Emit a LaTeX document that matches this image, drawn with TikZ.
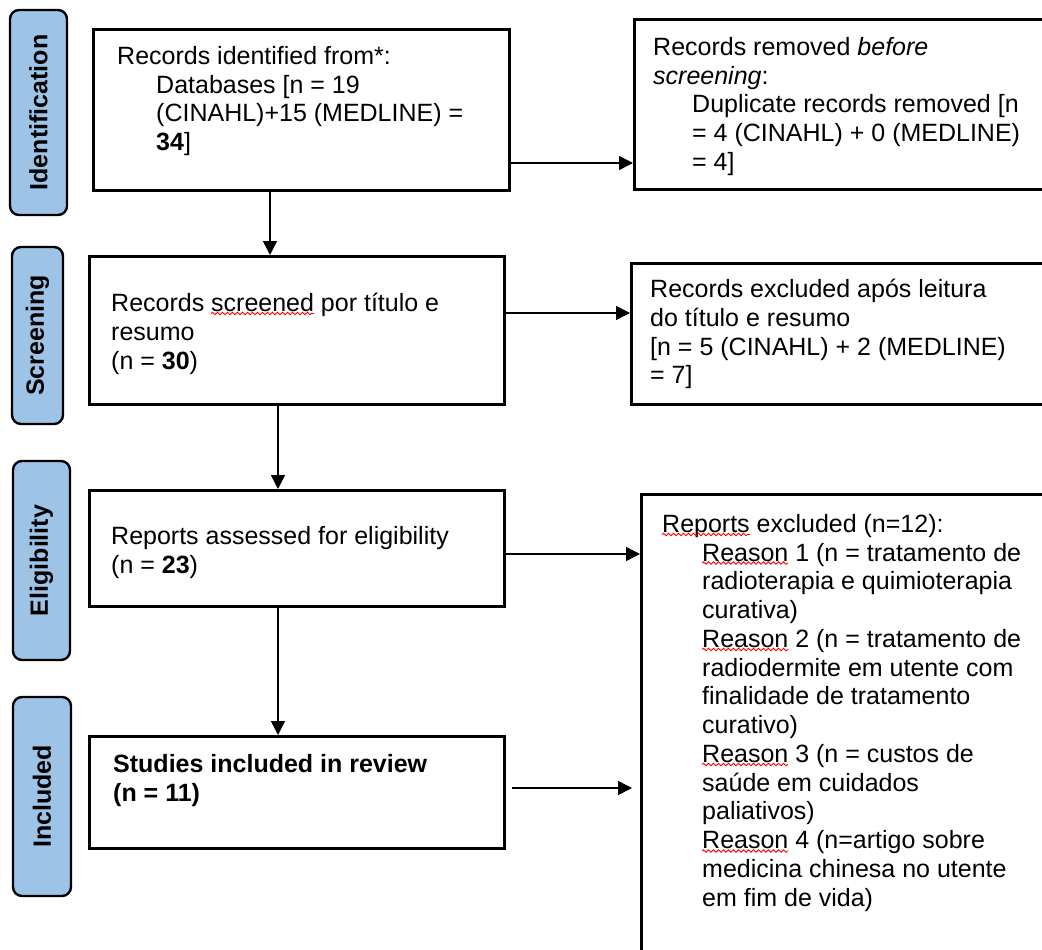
\documentclass[tikz,border=0pt]{standalone}
\usepackage{fontspec}
\setmainfont{Liberation Sans}
\usetikzlibrary{arrows.meta,decorations.pathmorphing}
\definecolor{stageblue}{RGB}{157,195,230}
\begin{document}
\begin{tikzpicture}[x=1pt,y=-1pt,
  box/.style={draw, line width=2.8pt, rectangle, inner sep=0pt, anchor=north west},
  stage/.style={draw, line width=2.4pt, fill=stageblue, rounded corners=9pt, inner sep=0pt, rotate=90, font=\fontsize{25}{29}\selectfont\bfseries},
  txt/.style={anchor=north west, inner sep=0pt, align=left, font=\fontsize{25}{28.75}\selectfont},
  arr/.style={line width=1.5pt, -{Triangle[length=14pt,width=14pt]}},
  squig/.style={red, line width=0.9pt, decorate, decoration={snake, amplitude=1.2pt, segment length=5pt}}]
\clip (0,0) rectangle (1042,950);
\fill[white] (0,0) rectangle (1042,950);

% stage labels
\node[stage, minimum width=205pt, minimum height=57pt] (sid) at (38.5,112.5) {Identification};
\node[stage, minimum width=177pt, minimum height=51pt] (sscr) at (37.5,335.5) {Screening};
\node[stage, minimum width=199pt, minimum height=57pt] (seli) at (41.5,560.5) {Eligibility};
\node[stage, minimum width=199pt, minimum height=58pt] (sinc) at (42,796.5) {Included};

% boxes
\node[box, minimum width=416pt, minimum height=161pt] (b1) at (92,28) {};
\node[box, minimum width=450pt, minimum height=170pt] (rem) at (633,18) {};
\node[box, minimum width=415pt, minimum height=148pt] (scr) at (88,255) {};
\node[box, minimum width=450pt, minimum height=141pt] (exc) at (630,262) {};
\node[box, minimum width=415pt, minimum height=116pt] (eli) at (88,489) {};
\node[box, minimum width=415pt, minimum height=112pt] (stu) at (88,735) {};
\node[box, minimum width=450pt, minimum height=500pt] (rep) at (640,493) {};

% texts
\node[txt] (t1) at (117,46) {Records identified from*:\\
\hspace*{39pt}Databases [n = 19\\
\hspace*{39pt}(CINAHL)+15 (MEDLINE) =\\
\hspace*{39pt}\textbf{34}]};
\node[txt] (trem) at (653,37) {Records removed \textit{before}\\
\textit{screening}:\\
\hspace*{39pt}Duplicate records removed [n\\
\hspace*{39pt}= 4 (CINAHL) + 0 (MEDLINE)\\
\hspace*{39pt}= 4]};
\node[txt] (tscr) at (111,293) {Records screened por título e\\
resumo\\
(n = \textbf{30})};
\node[txt] (texc) at (650,279) {Records excluded após leitura\\
do título e resumo\\{}[n = 5 (CINAHL) + 2 (MEDLINE)\\
= 7]};
\node[txt] (teli) at (111,526) {Reports assessed for eligibility\\
(n = \textbf{23})};
\node[txt, font=\fontsize{25}{28.75}\selectfont\bfseries] (tstu) at (113,754) {Studies included in review\\
(n = 11)};
\node[txt] (trep) at (662,514) {Reports excluded (n=12):\\
\hspace*{40pt}Reason 1 (n = tratamento de\\
\hspace*{40pt}radioterapia e quimioterapia\\
\hspace*{40pt}curativa)\\
\hspace*{40pt}Reason 2 (n = tratamento de\\
\hspace*{40pt}radiodermite em utente com\\
\hspace*{40pt}finalidade de tratamento\\
\hspace*{40pt}curativo)\\
\hspace*{40pt}Reason 3 (n = custos de\\
\hspace*{40pt}saúde em cuidados\\
\hspace*{40pt}paliativos)\\
\hspace*{40pt}Reason 4 (n=artigo sobre\\
\hspace*{40pt}medicina chinesa no utente\\
\hspace*{40pt}em fim de vida)};

% connectors
\coordinate (y163) at (0,163);
\coordinate (y313) at (0,313);
\coordinate (y554) at (0,554);
\coordinate (y788) at (0,788);
\coordinate (x270) at (270,0);
\coordinate (x278) at (278,0);
\draw[arr] (b1.east |- y163) -- (rem.west |- y163);
\draw[arr] (b1.south -| x270) -- (scr.north -| x270);
\draw[arr] (scr.east |- y313) -- (exc.west |- y313);
\draw[arr] (scr.south -| x278) -- (eli.north -| x278);
\draw[arr] (eli.east |- y554) -- (rep.west |- y554);
\draw[arr] (eli.south -| x278) -- (stu.north -| x278);
\draw[arr, shorten <=6pt, shorten >=8pt] (stu.east |- y788) -- (rep.west |- y788);

% spell-check squiggles
\draw[squig] (211,313.5) -- (314,313.5);
\draw[squig] (662,534.5) -- (750,534.5);
\draw[squig] (702,563) -- (788,563);
\draw[squig] (702,649.5) -- (788,649.5);
\draw[squig] (702,764.5) -- (788,764.5);
\draw[squig] (702,851) -- (788,851);
\end{tikzpicture}
\end{document}
